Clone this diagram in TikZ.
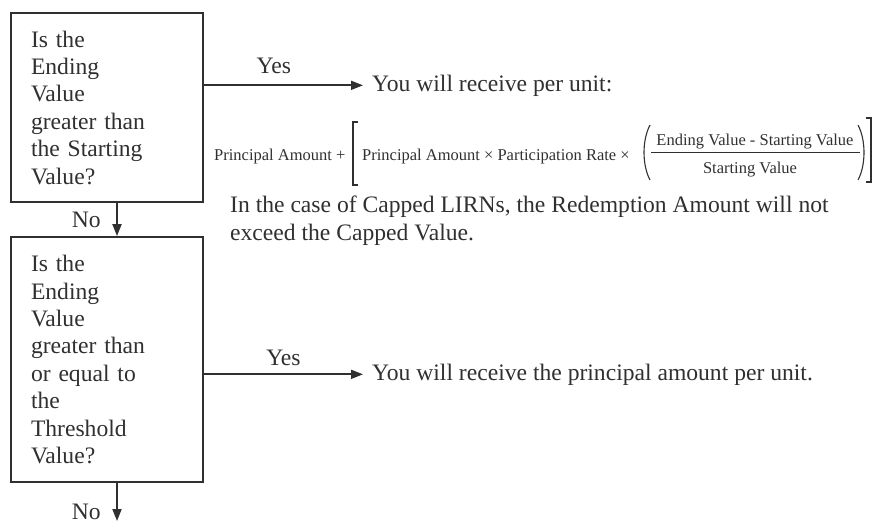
\documentclass[tikz,border=0pt]{standalone}
\usepackage{fontspec}
\setmainfont{Liberation Serif}
\usetikzlibrary{arrows.meta,calc}
\definecolor{ink}{HTML}{303030}
\begin{document}
\begin{tikzpicture}[x=1pt,y=1pt,
  every node/.style={text=ink},
  bigtext/.style={font=\fontsize{23.6}{27.4}\selectfont},
  qbox/.style={draw=ink, line width=1.8pt, bigtext, text width=152pt, align=left, inner xsep=20pt, inner ysep=0pt, minimum width=192pt},
  arr/.style={draw=ink, line width=1.8pt, -{Triangle[length=12pt,width=9pt]}},
  frm/.style={font=\fontsize{16.5}{19}\selectfont, inner sep=0pt},
  brk/.style={draw=ink, line width=1.1pt}
]
\useasboundingbox (0,0) rectangle (874,-531);
% question boxes
\node[qbox, minimum height=189pt] (q1) at (107,-107.5) {Is the\\Ending\\Value\\greater than\\the Starting\\Value?};
\node[qbox, minimum height=245pt] (q2) at (107,-359.5) {Is the\\Ending\\Value\\greater than\\or equal to\\the\\Threshold\\Value?};
\coordinate (xa) at (117,0);
\coordinate (end) at (117,-521);
% outcomes
\node[bigtext, anchor=base west, inner xsep=9pt, inner ysep=0pt] (t1) at (363,-91) {You will receive per unit:};
\node[bigtext, anchor=base west, inner xsep=9pt, inner ysep=0pt] (t2) at (363,-380) {You will receive the principal amount per unit.};
\node[bigtext, anchor=north west, align=left, inner sep=0pt] (note) at (230,-196) {In the case of Capped LIRNs, the Redemption Amount will not\\exceed the Capped Value.};
% formula
\node[frm, anchor=base west] (f1) at (214,-160) {Principal Amount +};
\draw[brk] (358,-122) -- (353,-122) -- (353,-185) -- (358,-185);
\node[frm, anchor=base west] (f2) at (362,-160) {Principal Amount × Participation Rate ×};
\draw[brk] (650,-125) .. controls (642,-140) and (642,-165) .. (650,-180);
\node[frm, anchor=base] (num) at (755,-145) {Ending Value - Starting Value};
\draw[ink, line width=1pt] (651,-152) -- (860,-152);
\node[frm, anchor=base] (den) at (750,-173) {Starting Value};
\draw[brk] (858,-125) .. controls (866,-140) and (866,-165) .. (858,-180);
\draw[brk] (866,-118) -- (871,-118) -- (871,-182) -- (866,-182);
% connectors
\draw[arr] (q1.south -| xa) -- (q2.north -| xa) node[midway, left=12pt, bigtext] {No};
\draw[arr] (q2.south -| xa) -- (end) node[pos=0.75, left=12pt, bigtext] {No};
\draw[arr] (t1.west -| q1.east) -- (t1.west) node[pos=0.44, above=7pt, bigtext] {Yes};
\draw[arr] (t2.west -| q2.east) -- (t2.west) node[pos=0.5, above=4pt, bigtext] {Yes};
\end{tikzpicture}
\end{document}
